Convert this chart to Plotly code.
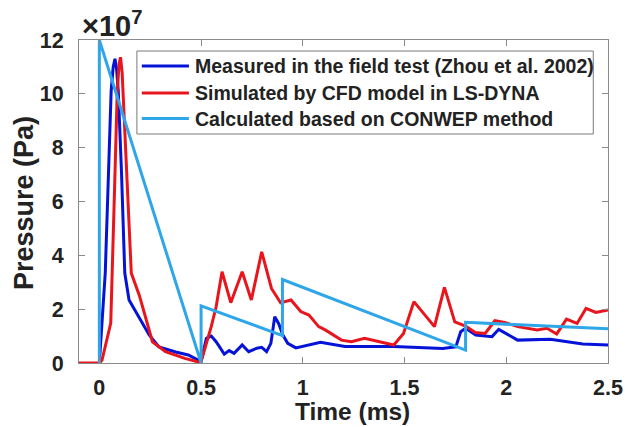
import plotly.graph_objects as go

# Time in ms, pressure in units of 1e7 Pa
t_meas = [0.0, 0.015, 0.029, 0.045, 0.058, 0.068, 0.077, 0.085, 0.093, 0.109, 0.125,
          0.146, 0.197, 0.245, 0.293, 0.375, 0.437, 0.486, 0.5, 0.526, 0.55, 0.574,
          0.614, 0.638, 0.662, 0.702, 0.734, 0.774, 0.798, 0.822, 0.843, 0.862, 0.881,
          0.902, 0.926, 0.966, 1.014, 1.087, 1.207, 1.447, 1.688, 1.752, 1.776, 1.80,
          1.85, 1.93, 1.963, 2.056, 2.216, 2.376, 2.5]
p_meas = [0.0, 1.6, 3.34, 7.06, 10.1, 11.0, 11.3, 10.9, 10.1, 7.06, 3.34,
          2.34, 1.65, 1.04, 0.6, 0.41, 0.3, 0.1, 0.05, 0.92, 1.0, 0.79,
          0.33, 0.46, 0.36, 0.67, 0.42, 0.55, 0.58, 0.42, 0.73, 1.72, 1.47,
          1.04, 0.73, 0.56, 0.64, 0.77, 0.61, 0.61, 0.54, 0.6, 1.16, 1.29,
          1.04, 0.98, 1.25, 0.85, 0.88, 0.71, 0.67]

t_sim = [-0.1, 0.0, 0.013, 0.056, 0.077, 0.088, 0.097, 0.104, 0.112, 0.133, 0.157,
         0.197, 0.213, 0.261, 0.325, 0.42, 0.49, 0.5, 0.55, 0.574, 0.603, 0.646, 0.702,
         0.747, 0.798, 0.846, 0.891, 0.942, 0.99, 1.03, 1.078, 1.11, 1.19, 1.239, 1.303,
         1.383, 1.447, 1.495, 1.546, 1.647, 1.696, 1.747, 1.80, 1.848, 1.896, 1.944,
         1.992, 2.056, 2.152, 2.2, 2.248, 2.296, 2.348, 2.392, 2.44, 2.5]
p_sim = [0.0, 0.0, 0.1, 1.48, 7.06, 10.1, 11.1, 11.36, 10.8, 7.06, 3.34,
         2.5, 2.09, 0.79, 0.42, 0.17, 0.03, 0.05, 1.35, 2.09, 3.39, 2.24, 3.39,
         2.34, 4.13, 2.77, 2.24, 2.34, 1.91, 1.78, 1.35, 1.23, 0.85, 0.79, 0.92,
         0.79, 0.67, 1.1, 2.28, 1.35, 2.81, 1.53, 1.37, 1.13, 1.1, 1.57,
         1.51, 1.35, 1.23, 1.29, 1.08, 1.63, 1.47, 2.03, 1.88, 1.97]

t_conwep = [0.0, 0.0, 0.5, 0.5, 0.9, 0.9, 1.8, 1.8, 2.5]
p_conwep = [0.0, 12.0, 0.0, 2.12, 1.02, 3.1, 0.48, 1.51, 1.27]

names = ["Measured in the field test (Zhou et al. 2002)",
         "Simulated by CFD model in LS-DYNA",
         "Calculated based on CONWEP method"]
colors = ["#0512d8", "#e8151c", "#2ea6e8"]

y_ticks = [0, 2, 4, 6, 8, 10, 12]
x_ticks = [0, 0.5, 1, 1.5, 2, 2.5]

FONT = "Liberation Sans"
TXT = "#222222"
AX = "#8a8a8a"

W, H = 635, 427
L, R, T, B = 79, 618, 40, 363


def px(x):
    return (x - L) / (R - L)


def py(y):
    return (B - y) / (B - T)


fig = go.Figure()
for tx, pv, nm, c in zip([t_meas, t_sim, t_conwep], [p_meas, p_sim, p_conwep], names, colors):
    fig.add_trace(go.Scatter(x=tx, y=pv, mode="lines", name=nm,
                             line=dict(color=c, width=3), showlegend=False))

axis_common = dict(showline=True, linecolor=AX, linewidth=1, mirror="ticks",
                   ticks="inside", ticklen=6, tickcolor=AX, showgrid=False,
                   zeroline=False,
                   tickfont=dict(family=FONT, size=21.5, color=TXT, weight="bold"))

fig.update_xaxes(range=[-0.1, 2.5], tickvals=x_ticks,
                 ticktext=[("%g" % v) for v in x_ticks], ticklabelstandoff=5,
                 **axis_common)
fig.update_yaxes(range=[0, 12], tickvals=y_ticks,
                 ticktext=[str(v) for v in y_ticks], ticklabelstandoff=10,
                 **axis_common)

# Legend box drawn as shapes + annotations
shapes = [dict(type="rect", xref="paper", yref="paper",
               x0=px(138), x1=px(603), y0=py(134), y1=py(51),
               line=dict(color="#7a7a7a", width=1), fillcolor="white", layer="above")]
annotations = []
row_y = [66, 93, 118.5]
for ry, nm, c in zip(row_y, names, colors):
    shapes.append(dict(type="line", xref="paper", yref="paper",
                       x0=px(143), x1=px(191), y0=py(ry), y1=py(ry),
                       line=dict(color=c, width=3), layer="above"))
    annotations.append(dict(text=nm, xref="paper", yref="paper", x=px(195), y=py(ry),
                            xanchor="left", yanchor="middle", showarrow=False,
                            font=dict(family=FONT, size=19.5, color=TXT, weight="bold")))

annotations.append(dict(text="Time (ms)", xref="paper", yref="paper", x=px(358), y=py(411.5),
                        xanchor="center", yanchor="middle", showarrow=False,
                        font=dict(family=FONT, size=24.5, color=TXT, weight="bold")))
annotations.append(dict(text="Pressure (Pa)", xref="paper", yref="paper", x=px(23), y=py(203),
                        xanchor="center", yanchor="middle", showarrow=False, textangle=-90,
                        font=dict(family=FONT, size=27, color=TXT, weight="bold")))
annotations.append(dict(text="×10<sup>7</sup>", xref="paper", yref="paper", x=px(80), y=py(24),
                        xanchor="left", yanchor="middle", showarrow=False,
                        font=dict(family=FONT, size=29, color=TXT, weight="bold")))

fig.update_layout(width=W, height=H, margin=dict(l=L, r=W - R, t=T, b=H - B),
                  paper_bgcolor="white", plot_bgcolor="white",
                  shapes=shapes, annotations=annotations, showlegend=False)

fig.write_html("out.html")
